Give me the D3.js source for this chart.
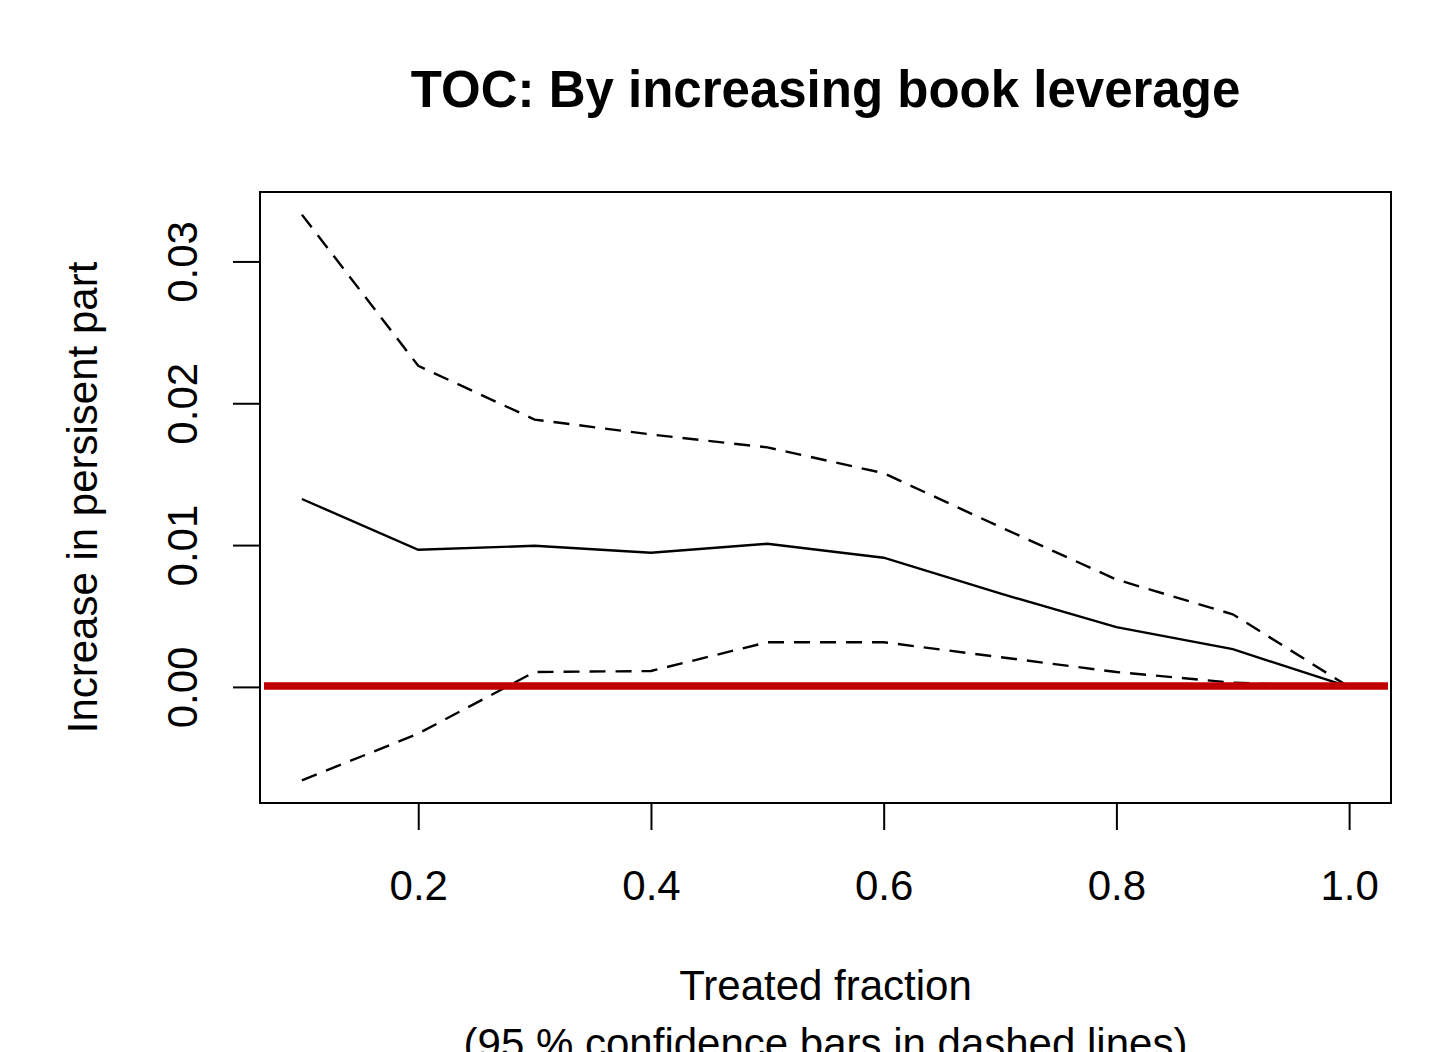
<!DOCTYPE html>
<html>
<head>
<meta charset="utf-8">
<script src="https://cdn.jsdelivr.net/npm/d3@7"></script>
<style>
  html, body { margin: 0; padding: 0; background: #fff; }
  svg { display: block; font-family: "Liberation Sans", Arial, Helvetica, sans-serif; }
</style>
</head>
<body>
<svg id="chart" width="1431" height="1052"></svg>
<script>
// ---- data ----
const fractions = [0.1, 0.2, 0.3, 0.4, 0.5, 0.6, 0.7, 0.8, 0.9, 1.0];
const estimate  = [0.01325, 0.00967, 0.00995, 0.00946, 0.01009, 0.00911, 0.00659, 0.00421, 0.00266, 0.0000];
const upperCI   = [0.0333, 0.02264, 0.01885, 0.0178, 0.01689, 0.01507, 0.01128, 0.00757, 0.00512, 0.0000];
const lowerCI   = [-0.00659, -0.00329, 0.00105, 0.00112, 0.00315, 0.00315, 0.0021, 0.00105, 0.0003, 0.0000];
const xTicks = [0.2, 0.4, 0.6, 0.8, 1.0];
const yTicks = [0.00, 0.01, 0.02, 0.03];
const title = "TOC: By increasing book leverage";
const xLabel1 = "Treated fraction";
const xLabel2 = "(95 % confidence bars in dashed lines)";
const yLabel = "Increase in persisent part";

// ---- layout ----
const svg = d3.select("#chart");
const box = { left: 260, right: 1391, top: 192, bottom: 803 };

// R-style 4% axis extension
const xExt = d3.extent(fractions);
const xPad = (xExt[1] - xExt[0]) * 0.04;
const allY = upperCI.concat(lowerCI, estimate);
const yExt = d3.extent(allY);
const yPad = (yExt[1] - yExt[0]) * 0.04;

const x = d3.scaleLinear().domain([xExt[0] - xPad, xExt[1] + xPad]).range([box.left, box.right]);
const y = d3.scaleLinear().domain([yExt[0] - yPad, yExt[1] + yPad]).range([box.bottom, box.top]);

// clip
svg.append("defs").append("clipPath").attr("id", "clip")
  .append("rect").attr("x", box.left).attr("y", box.top)
  .attr("width", box.right - box.left).attr("height", box.bottom - box.top);

const line = d3.line().x(d => x(d[0])).y(d => y(d[1]));
const plot = svg.append("g").attr("clip-path", "url(#clip)");

plot.append("path")
  .datum(fractions.map((f, i) => [f, estimate[i]]))
  .attr("d", line).attr("fill", "none").attr("stroke", "#000").attr("stroke-width", 2.4);

[upperCI, lowerCI].forEach(s => {
  plot.append("path")
    .datum(fractions.map((f, i) => [f, s[i]]))
    .attr("d", line).attr("fill", "none").attr("stroke", "#000")
    .attr("stroke-width", 2.4).attr("stroke-dasharray", "16,10");
});

// red reference line at 0
plot.append("line")
  .attr("x1", box.left + 4).attr("x2", box.right - 3)
  .attr("y1", y(0) - 1).attr("y2", y(0) - 1)
  .attr("stroke", "#c00000").attr("stroke-width", 7.5);

// box
svg.append("rect")
  .attr("x", box.left).attr("y", box.top)
  .attr("width", box.right - box.left).attr("height", box.bottom - box.top)
  .attr("fill", "none").attr("stroke", "#000").attr("stroke-width", 2);

// x axis
const xAxis = d3.axisBottom(x).tickValues(xTicks).tickSize(27).tickPadding(40)
  .tickFormat(d3.format(".1f"));
const gx = svg.append("g").attr("transform", `translate(0,${box.bottom})`).call(xAxis);
gx.select(".domain").remove();
gx.selectAll(".tick line").attr("stroke", "#000").attr("stroke-width", 2);
gx.selectAll(".tick text").attr("font-size", 42).attr("fill", "#000")
  .attr("font-family", "Liberation Sans, Arial, sans-serif");

// y axis
const yAxis = d3.axisLeft(y).tickValues(yTicks).tickSize(27).tickFormat(d3.format(".2f"));
const gy = svg.append("g").attr("transform", `translate(${box.left},0)`).call(yAxis);
gy.select(".domain").remove();
gy.selectAll(".tick line").attr("stroke", "#000").attr("stroke-width", 2);
gy.selectAll(".tick text")
  .attr("font-size", 42).attr("fill", "#000")
  .attr("font-family", "Liberation Sans, Arial, sans-serif")
  .attr("dy", null)
  .attr("text-anchor", "middle")
  .attr("transform", `translate(${197 - box.left},0) rotate(-90)`)
  .attr("x", 0).attr("y", 0);

// title
svg.append("text")
  .attr("x", (box.left + box.right) / 2).attr("y", 107)
  .attr("text-anchor", "middle").attr("font-weight", "bold").attr("font-size", 51)
  .text(title);

// x label
svg.append("text")
  .attr("x", (box.left + box.right) / 2).attr("y", 1000)
  .attr("text-anchor", "middle").attr("font-size", 42).text(xLabel1);
svg.append("text")
  .attr("x", (box.left + box.right) / 2).attr("y", 1058)
  .attr("text-anchor", "middle").attr("font-size", 42).text(xLabel2);

// y label
svg.append("text")
  .attr("transform", `translate(97,${(box.top + box.bottom) / 2}) rotate(-90)`)
  .attr("text-anchor", "middle").attr("font-size", 42).text(yLabel);
</script>
</body>
</html>
